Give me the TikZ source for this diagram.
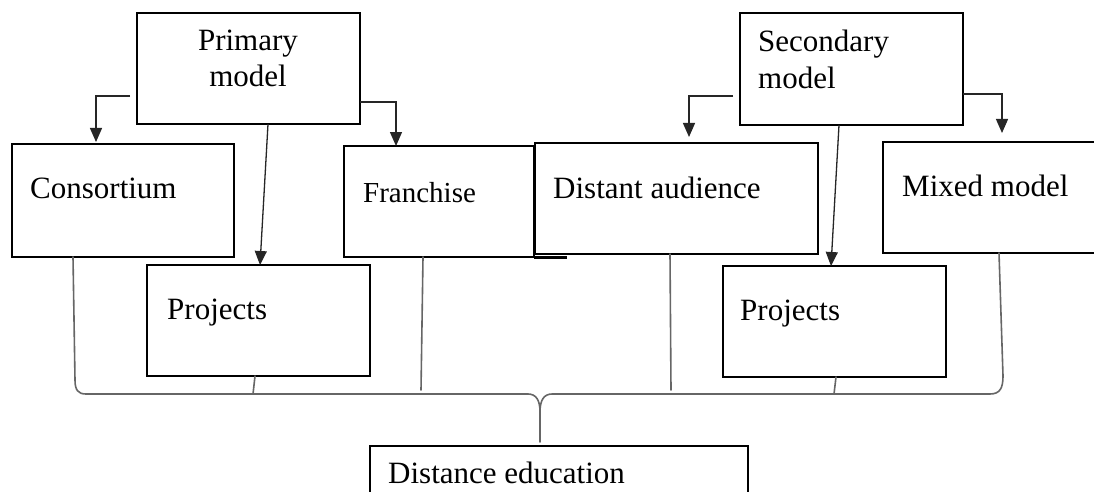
\documentclass[tikz,border=0pt]{standalone}
\usepackage{fontspec}
\setmainfont{Liberation Serif}
\usetikzlibrary{arrows.meta}
\begin{document}
\begin{tikzpicture}[x=1pt,y=-1pt,
  box/.style={draw, line width=2.6pt, fill=white, inner sep=0pt, outer sep=0pt, anchor=north west},
  txt/.style={inner sep=0pt, font=\fontsize{31}{37}\selectfont},
  arr/.style={line width=1.3pt, draw=black!85, -{Triangle[length=14pt,width=12pt]}},
  brace/.style={line width=1.6pt, draw=black!60, line cap=round}]
\clip (0,0) rectangle (1094,492);
\fill[white] (0,0) rectangle (1094,492);
% boxes
\node[box, minimum width=223pt, minimum height=111pt] (prim) at (137,13) {};
\node[box, minimum width=222pt, minimum height=113pt] (cons) at (12,144) {};
\node[box, minimum width=190pt, minimum height=111pt] (fran) at (344,146) {};
\draw[line width=3pt] (fran.south east) -- ++(33,0);
\node[box, minimum width=283pt, minimum height=111pt] (dist) at (535,143) {};
\node[box, minimum width=223pt, minimum height=112pt] (sec) at (740,13) {};
\node[box, minimum width=230pt, minimum height=111pt] (mix) at (883,142) {};
\node[box, minimum width=223pt, minimum height=111pt] (projL) at (147,265) {};
\node[box, minimum width=223pt, minimum height=111pt] (projR) at (723,266) {};
\node[box, minimum width=378pt, minimum height=80pt] (edu) at (370,446) {};
% texts
\node[txt, anchor=base] (primA) at (248,51) {Primary};
\node[txt, anchor=base] (primB) at (248,87) {model};
\node[txt, anchor=base west] (secA) at (758,52) {Secondary};
\node[txt, anchor=base west] (secB) at (758,89) {model};
\node[txt, anchor=base west] (consT) at (30,198) {Consortium};
\node[txt, anchor=base west, font=\fontsize{29}{34}\selectfont] (franT) at (363,202) {Franchise};
\node[txt, anchor=base west] (distT) at (553,198) {Distant audience};
\node[txt, anchor=base west] (mixT) at (902,196) {Mixed model};
\node[txt, anchor=base west] (projLT) at (167,319) {Projects};
\node[txt, anchor=base west] (projRT) at (740,320) {Projects};
\node[txt, anchor=base west] (eduT) at (388,483) {Distance education};
% arrows
\draw[arr] ([xshift=-7pt]prim.west |- 0,96) -| ([yshift=2pt]cons.north -| 96,0);
\draw[arr] (prim.east |- 0,102) -| (fran.north -| 396,0);
\draw[arr] (prim.south -| 268,0) -- (projL.north -| 260,0);
\draw[arr] ([xshift=-7pt]sec.west |- 0,96) -| ([yshift=6pt]dist.north -| 689,0);
\draw[arr] (sec.east |- 0,94) -| ([yshift=9pt]mix.north -| 1002,0);
\draw[arr] (sec.south -| 839,0) -- (projR.north -| 831,0);
% brace
\coordinate (bm) at (540,412);
\draw[brace] (cons.south -| 73,0) -- (75,380) .. controls (75,390) and (78,394) .. (86,394) -- (528,394) .. controls (536,394) and (540,400) .. (bm) -- ([yshift=4pt]edu.north -| 540,0);
\draw[brace] (mix.south -| 999,0) -- (1003,376) .. controls (1003,388) and (1000,394) .. (990,394) -- (552,394) .. controls (544,394) and (540,400) .. (bm);
\draw[brace] (projL.south -| 255,0) -- (253,394);
\draw[brace] (fran.south -| 423,0) -- (421,390);
\draw[brace] (dist.south -| 670,0) -- (671,390);
\draw[brace] (projR.south -| 836,0) -- (834,394);
\end{tikzpicture}
\end{document}
